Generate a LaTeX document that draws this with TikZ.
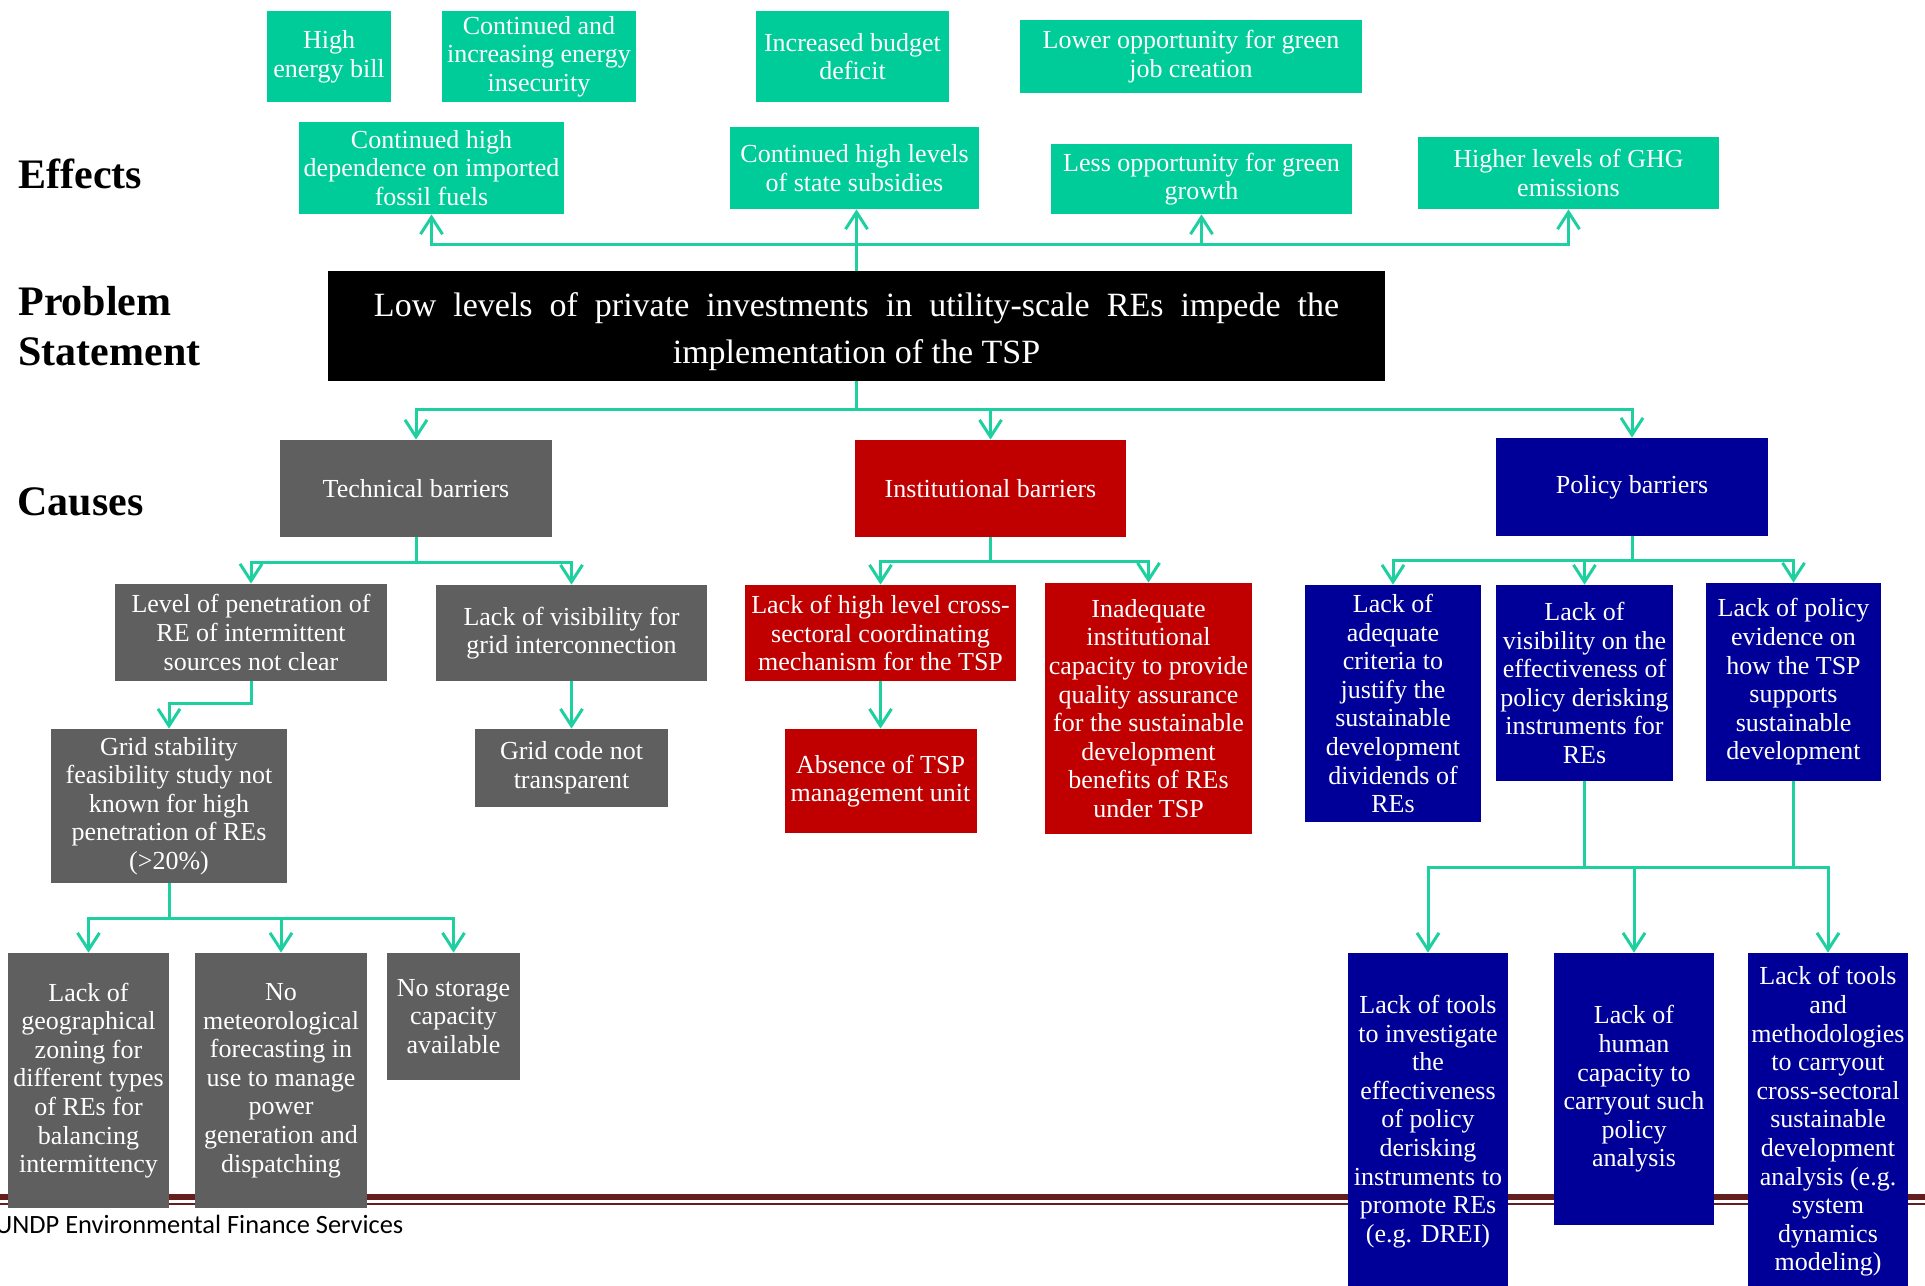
\documentclass[tikz,border=0pt]{standalone}
\usepackage{fontspec}
\setmainfont{Liberation Serif}
\newfontfamily\footfont{Carlito}
\usetikzlibrary{arrows.meta}
\definecolor{effgreen}{RGB}{0,204,153}
\definecolor{lngreen}{RGB}{30,208,160}
\definecolor{techgray}{RGB}{95,95,95}
\definecolor{instred}{RGB}{192,0,0}
\definecolor{polblue}{RGB}{0,0,153}
\definecolor{maroonline}{RGB}{100,30,30}
\begin{document}
\begin{tikzpicture}[x=0.5pt,y=-0.5pt,
  bx/.style={inner sep=0pt, text=white, align=center, font=\fontsize{13}{14.3}\selectfont},
  sz/.style 2 args={minimum width=#1*0.5pt, minimum height=#2*0.5pt},
  eff/.style={bx, fill=effgreen},
  tec/.style={bx, fill=techgray},
  ins/.style={bx, fill=instred},
  pol/.style={bx, fill=polblue},
  conn/.style={draw=lngreen, line width=1.5pt},
  arr/.style={conn, -{Straight Barb[length=8.5pt,width=11pt]}},
  lab/.style={anchor=base west, inner sep=0pt, font=\fontsize{21}{25}\selectfont\bfseries},
]
\useasboundingbox (0,0) rectangle (1925,1285);

% footer rule
\draw[maroonline, line width=3pt] (0,1197) -- (1925,1197);
\draw[maroonline, line width=1pt] (0,1204) -- (1925,1204);
\node[anchor=base west, inner sep=0pt, font=\footfont\fontsize{13.2}{15}\selectfont] (foot) at (-5,1233) {UNDP Environmental Finance Services};

% row labels
\node[lab] (leff) at (18,188) {Effects};
\node[lab] (lps1) at (18,315) {Problem};
\node[lab] (lps2) at (18,365) {Statement};
\node[lab] (lcau) at (17,515) {Causes};

% effects
\node[eff, sz={124}{91}] (bill) at (329,56.5) {High\\energy bill};
\node[eff, sz={194}{91}] (insec) at (539,56.5) {Continued and\\increasing energy\\insecurity};
\node[eff, sz={193}{91}] (budget) at (852.5,56.5) {Increased budget\\deficit};
\node[eff, sz={342}{73}] (job) at (1191,56.5) {Lower opportunity for green\\job creation};
\node[eff, sz={265}{92}] (fossil) at (431.5,168) {Continued high\\dependence on imported\\fossil fuels};
\node[eff, sz={249}{82}] (subs) at (854.5,168) {Continued high levels\\of state subsidies};
\node[eff, sz={301}{70}] (growth) at (1201.5,179) {Less opportunity for green\\growth};
\node[eff, sz={301}{72}] (ghg) at (1568.5,173) {Higher levels of GHG\\emissions};

% problem statement
\node[fill=black, inner sep=0pt, sz={1057}{110}] (prob) at (856.5,326) {};
\node[bx, font=\fontsize{17}{23.5}\selectfont] (probtxt) at (856.5,332)
  {\spaceskip=0.5em\relax Low levels of private investments in utility-scale REs impede the\\implementation of the TSP};

% causes
\node[tec, sz={272}{97}] (tech) at (416,488.5) {Technical barriers};
\node[ins, sz={271}{97}] (inst) at (990.5,488.5) {Institutional barriers};
\node[pol, sz={272}{98}] (poli) at (1632,487) {Policy barriers};

\node[tec, sz={272}{97}] (lvl) at (251,632.5) {Level of penetration of\\RE of intermittent\\sources not clear};
\node[tec, sz={271}{96}] (vis) at (571.5,633) {Lack of visibility for\\grid interconnection};
\node[tec, sz={236}{154}] (grid) at (169,806) {Grid stability\\feasibility study not\\known for high\\penetration of REs\\(>20\%)};
\node[tec, sz={193}{78}] (code) at (571.5,768) {Grid code not\\transparent};
\node[tec, sz={161}{255}] (geo) at (88.5,1080.5) {Lack of\\geographical\\zoning for\\different types\\of REs for\\balancing\\intermittency};
\node[tec, sz={172}{255}] (met) at (281,1080.5) {No\\meteorological\\forecasting in\\use to manage\\power\\generation and\\dispatching};
\node[tec, sz={133}{127}] (stor) at (453.5,1016.5) {No storage\\capacity\\available};

\node[ins, sz={271}{96}] (cross) at (880.5,633) {Lack of high level cross-\\sectoral coordinating\\mechanism for the TSP};
\node[ins, sz={207}{251}] (inad) at (1148.5,708.5) {Inadequate\\institutional\\capacity to provide\\quality assurance\\for the sustainable\\development\\benefits of REs\\under TSP};
\node[ins, sz={192}{104}] (absu) at (880.5,781) {Absence of TSP\\management unit};

\node[pol, sz={176}{237}] (crit) at (1393,703.5) {Lack of\\adequate\\criteria to\\justify the\\sustainable\\development\\dividends of\\REs};
\node[pol, sz={177}{196}] (pvis) at (1584.5,683) {Lack of\\visibility on the\\effectiveness of\\policy derisking\\instruments for\\REs};
\node[pol, sz={175}{198}] (evid) at (1793.5,682) {Lack of policy\\evidence on\\how the TSP\\supports\\sustainable\\development};
\node[pol, sz={160}{337}] (tools) at (1428,1121.5) {Lack of tools\\to investigate\\the\\effectiveness\\of policy\\derisking\\instruments to\\promote REs\\(e.g. DREI)};
\node[pol, sz={160}{272}] (human) at (1634,1089) {Lack of\\human\\capacity to\\carryout such\\policy\\analysis};
\node[pol, sz={160}{337}] (meth) at (1828,1121.5) {Lack of tools\\and\\methodologies\\to carryout\\cross-sectoral\\sustainable\\development\\analysis (e.g.\\system\\dynamics\\modeling)};

% connectors: effects
\coordinate (ej) at (856.5,244);
\draw[arr] (prob.north) -- (prob.north |- subs.south);
\draw[arr] (ej) -| (fossil.south);
\draw[arr] (ej) -| (growth.south);
\draw[arr] (ej) -| (ghg.south);

% connectors: causes
\coordinate (cj) at (856.5,409);
\draw[conn] (prob.south) -- (cj);
\draw[arr] (cj) -| (tech.north);
\draw[arr] (cj) -| (inst.north);
\draw[arr] (cj) -| (poli.north);

% technical
\coordinate (tj) at (416,562);
\draw[conn] (tech.south) -- (tj);
\draw[arr] (tj) -| (lvl.north);
\draw[arr] (tj) -| (vis.north);
\coordinate (lj) at (251,703);
\draw[arr] (lvl.south) -- (lj) -| (grid.north);
\draw[arr] (vis.south) -- (code.north);
\coordinate (gj) at (169,918);
\draw[conn] (grid.south) -- (gj);
\draw[arr] (gj) -| (geo.north);
\draw[arr] (gj) -| (met.north);
\draw[arr] (gj) -| (stor.north);

% institutional
\coordinate (ij) at (990.5,561);
\draw[conn] (inst.south) -- (ij);
\draw[arr] (ij) -| (cross.north);
\draw[arr] (ij) -| (inad.north);
\draw[arr] (cross.south) -- (absu.north);

% policy
\coordinate (pj) at (1632,560);
\draw[conn] (poli.south) -- (pj);
\draw[arr] (pj) -| (crit.north);
\draw[arr] (pj) -| (pvis.north);
\draw[arr] (pj) -| (evid.north);
\coordinate (qj) at (1634,867);
\draw[conn] (pvis.south) -- (pvis.south |- qj);
\draw[conn] (evid.south) -- (evid.south |- qj);
\draw[arr] (qj) -| (tools.north);
\draw[arr] (qj) -- (human.north);
\draw[arr] (qj) -| (meth.north);
\end{tikzpicture}
\end{document}
